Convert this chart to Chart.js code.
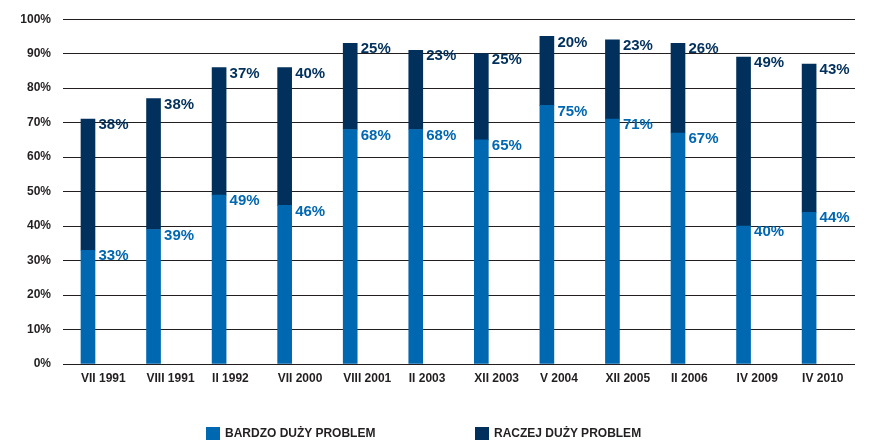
<!DOCTYPE html>
<html>
<head>
<meta charset="utf-8">
<script src="https://cdn.jsdelivr.net/npm/chart.js@4.4.0/dist/chart.umd.min.js"></script>
<style>
  body { margin: 0; background: #fff; }
  #wrap { position: relative; width: 870px; height: 448px; }
  .legend-item { position: absolute; top: 426px; display: flex; align-items: center;
    font: bold 12px "Liberation Sans", Arial, sans-serif; color: #231f20; }
  .legend-item span.box { width: 14px; height: 13px; margin-right: 5px; display: inline-block; }
</style>
</head>
<body>
<div id="wrap">
  <canvas id="problemchart" width="870" height="448"></canvas>
  <div class="legend-item" style="left:206px"><span class="box" style="background:#0067b1"></span>BARDZO DUŻY PROBLEM</div>
  <div class="legend-item" style="left:475px"><span class="box" style="background:#00305b"></span>RACZEJ DUŻY PROBLEM</div>
</div>
<script>
const labels = ["VII 1991", "VIII 1991", "II 1992", "VII 2000", "VIII 2001", "II 2003",
  "XII 2003", "V 2004", "XII 2005", "II 2006", "IV 2009", "IV 2010"];
const bardzo = [33, 39, 49, 46, 68, 68, 65, 75, 71, 67, 40, 44];
const raczej = [38, 38, 37, 40, 25, 23, 25, 20, 23, 26, 49, 43];
const yTicks = [0, 10, 20, 30, 40, 50, 60, 70, 80, 90, 100];

const LIGHT = "#0067b1";
const DARK = "#00305b";

// value labels to the right of each segment top
const valueLabels = {
  id: "valueLabels",
  afterDatasetsDraw(chart) {
    const ctx = chart.ctx;
    ctx.save();
    ctx.font = "bold 15px 'Liberation Sans', Arial, sans-serif";
    ctx.textAlign = "left";
    ctx.textBaseline = "middle";
    chart.data.datasets.forEach((ds, di) => {
      const meta = chart.getDatasetMeta(di);
      ctx.fillStyle = ds.labelColor;
      meta.data.forEach((el, i) => {
        ctx.fillText(ds.data[i].y + "%", el.x + el.width / 2 + 3.5, el.y + 6);
      });
    });
    ctx.restore();
  },
};

const ctx = document.getElementById("problemchart").getContext("2d");
new Chart(ctx, {
  type: "bar",
  data: {
    datasets: [
      {
        label: "BARDZO DUŻY PROBLEM",
        data: bardzo.map((v, i) => ({ x: i, y: v })),
        backgroundColor: LIGHT,
        labelColor: LIGHT,
        barThickness: 14,
      },
      {
        label: "RACZEJ DUŻY PROBLEM",
        data: raczej.map((v, i) => ({ x: i, y: v })),
        backgroundColor: DARK,
        labelColor: DARK,
        barThickness: 14,
      },
    ],
  },
  options: {
    responsive: false,
    animation: false,
    layout: { padding: { left: 0, right: 15, top: 17, bottom: 0 } },
    plugins: { legend: { display: false }, tooltip: { enabled: false } },
    scales: {
      x: {
        type: "linear",
        stacked: true,
        offset: false,
        min: -0.381,
        max: 11.7,
        grid: { display: false, drawTicks: false, offset: false },
        border: { display: false },
        afterBuildTicks: (s) => { s.ticks = labels.map((_, i) => ({ value: i })); },
        afterFit: (s) => { s.height = 84; },
        ticks: {
          autoSkip: false,
          maxRotation: 0,
          align: "start",
          labelOffset: -7,
          padding: 7,
          color: "#231f20",
          font: { family: "'Liberation Sans', Arial, sans-serif", size: 12, weight: "bold" },
          callback: (v) => labels[v],
        },
      },
      y: {
        stacked: true,
        min: 0,
        max: 100,
        afterBuildTicks: (s) => { s.ticks = yTicks.map((v) => ({ value: v })); },
        afterFit: (s) => { s.width = 63; },
        grid: { color: "#231f20", lineWidth: 1, drawTicks: false },
        border: { display: false },
        ticks: {
          padding: 12,
          color: "#231f20",
          font: { family: "'Liberation Sans', Arial, sans-serif", size: 12, weight: "bold" },
          callback: (v) => v + "%",
        },
      },
    },
  },
  plugins: [valueLabels],
});
</script>
</body>
</html>
